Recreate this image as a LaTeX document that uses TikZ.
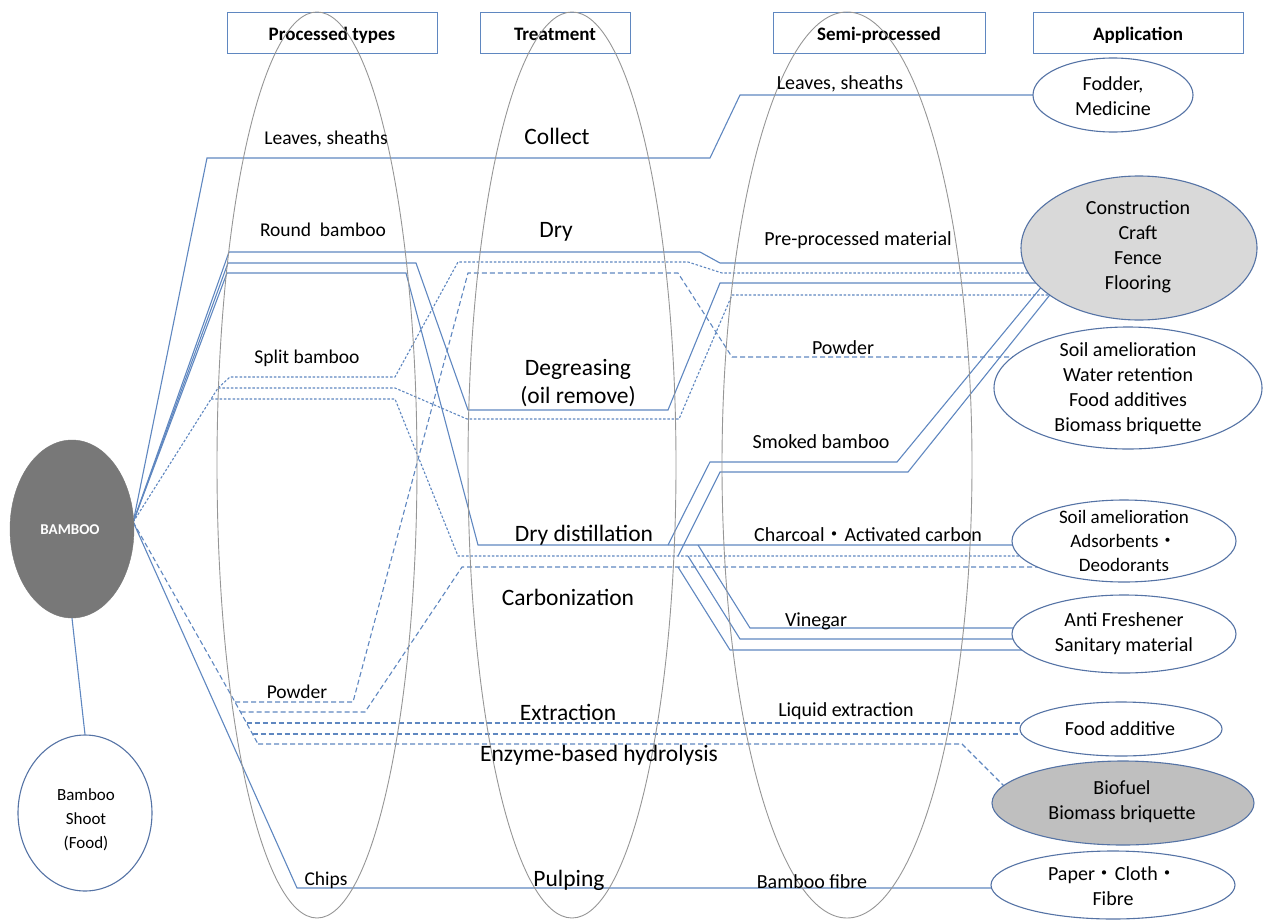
\documentclass[tikz,border=0pt]{standalone}
\usepackage{fontspec}
\setmainfont{Carlito}
\newfontfamily\cjk{Noto Sans CJK JP}
\usetikzlibrary{shapes.geometric,backgrounds,calc}
\definecolor{lb}{RGB}{95,135,192}
\definecolor{eb}{RGB}{85,115,165}
\definecolor{eg}{RGB}{150,150,150}
\newcommand{\kdot}{{\cjk ・}}
\tikzset{
  conn/.style={draw=lb, line width=1.1pt},
  dsh/.style={conn, dash pattern=on 5pt off 3pt},
  dotl/.style={conn, dash pattern=on 2.5pt off 1.8pt},
  colell/.style={ellipse, draw=eg, line width=0.9pt, inner sep=0pt},
  hdr/.style={draw=lb, line width=1pt, minimum height=41pt, inner sep=0pt},
  hdrtxt/.style={inner sep=0pt, anchor=base, font=\fontsize{19}{22}\selectfont\bfseries},
  appell/.style={ellipse, draw=eb, line width=1.1pt, fill=white, inner sep=0pt},
  apptxt/.style={align=center, inner sep=0pt, font=\fontsize{20}{25}\selectfont},
  lp/.style={inner sep=0pt, font=\fontsize{19.5}{23}\selectfont},
  lt/.style={inner sep=0pt, align=center, font=\fontsize{23.5}{28}\selectfont},
  ls/.style={inner sep=0pt, font=\fontsize{20}{23}\selectfont}
}
\begin{document}
\begin{tikzpicture}[x=1pt,y=-1pt]
\useasboundingbox (0,0) rectangle (1264,921);

% headers
\node[hdr, minimum width=210pt] (hpt) at (332,32.5) {};
\node[hdr, minimum width=150pt] (htr) at (555,32.5) {};
\node[hdr, minimum width=212pt] (hsp) at (879,32.5) {};
\node[hdr, minimum width=210pt] (hap) at (1138,32.5) {};
\node[hdrtxt] (hptt) at (332,40) {Processed types};
\node[hdrtxt] (htrt) at (555,40) {Treatment};
\node[hdrtxt] (hspt) at (879,40) {Semi-processed};
\node[hdrtxt] (hapt) at (1138,40) {Application};

% column ellipses
\node[colell, minimum width=200pt, minimum height=906pt] (ce1) at (317,465) {};
\node[colell, minimum width=208pt, minimum height=906pt] (ce2) at (572,465) {};
\node[colell, minimum width=250pt, minimum height=906pt] (ce3) at (847,465) {};

% source nodes
\node[ellipse, fill=black!53, draw=black!53, minimum width=124pt, minimum height=178pt, inner sep=0pt] (bamboo) at (72,529) {};
\node[text=white, inner sep=0pt, font=\fontsize{15}{18}\selectfont\bfseries] (bambootxt) at (70,530) {BAMBOO};
\node[appell, minimum width=134pt, minimum height=156pt] (shoot) at (85,813) {};
\node[apptxt, font=\fontsize{17}{24}\selectfont] (shoottxt) at (86,820) {Bamboo\\Shoot\\(Food)};

% application ellipses
\node[appell, minimum width=160pt, minimum height=74pt] (fod) at (1113,95) {};
\node[appell, fill=black!15, minimum width=236pt, minimum height=144pt] (con) at (1139,248) {};
\node[appell, minimum width=268pt, minimum height=122pt] (soil1) at (1128,388) {};
\node[appell, minimum width=224pt, minimum height=82pt] (soil2) at (1124,541) {};
\node[appell, minimum width=224pt, minimum height=78pt] (anti) at (1124,634) {};
\node[appell, minimum width=202pt, minimum height=54pt] (food) at (1121,729) {};
\node[appell, fill=black!25, minimum width=262pt, minimum height=84pt] (bio) at (1123,803) {};
\node[appell, minimum width=244pt, minimum height=68pt] (paper) at (1113,885) {};

\node[apptxt] (fodt) at (1113,96) {Fodder,\\Medicine};
\node[apptxt] (cont) at (1138,247) {Construction\\Craft\\Fence\\Flooring};
\node[apptxt] (soil1t) at (1128,389) {Soil amelioration\\Water retention\\Food additives\\Biomass briquette};
\node[apptxt, font=\fontsize{19}{24}\selectfont] (soil2t) at (1124,541) {Soil amelioration\\Adsorbents\kdot\\Deodorants};
\node[apptxt] (antit) at (1124,634) {Anti Freshener\\Sanitary material};
\node[apptxt] (foodt) at (1120,729) {Food additive};
\node[apptxt] (biot) at (1122,802) {Biofuel\\Biomass briquette};
\node[apptxt] (papert) at (1113,886) {Paper\kdot Cloth\kdot\\Fibre};

% labels: processed types
\node[lp] (lp1) at (326,139) {Leaves, sheaths};
\node[lp] (lp2) at (323,230) {Round\ \ bamboo};
\node[lp] (lp3) at (307,358) {Split bamboo};
\node[lp] (lp4) at (297,692) {Powder};
\node[lp] (lp5) at (326,880) {Chips};
% labels: treatment
\node[lt] (lt1) at (557,136) {Collect};
\node[lt] (lt2) at (556,232) {Dry};
\node[lt] (lt3) at (578,383) {Degreasing\\(oil remove)};
\node[lt] (lt4) at (584,535) {Dry distillation};
\node[lt] (lt5) at (568,597) {Carbonization};
\node[lt] (lt6) at (568,712) {Extraction};
\node[lt] (lt7) at (599,755) {Enzyme-based hydrolysis};
\node[lt] (lt8) at (569,880) {Pulping};
% labels: semi-processed
\node[ls] (ls1) at (840,84) {Leaves, sheaths};
\node[ls] (ls2) at (858,240) {Pre-processed material};
\node[ls] (ls3) at (843,348) {Powder};
\node[ls] (ls4) at (821,442) {Smoked bamboo};
\node[ls] (ls5) at (868,535) {Charcoal\kdot Activated carbon};
\node[ls] (ls6) at (816,621) {Vinegar};
\node[ls] (ls7) at (846,711) {Liquid extraction};
\node[ls] (ls8) at (812,882) {Bamboo fibre};

\begin{scope}[on background layer]
\coordinate (b0) at ($(bamboo.east)+(-1,-7)$);
% bamboo shoot
\draw[conn] (bamboo.south) -- (shoot.north);
% leaves
\draw[conn] (b0) -- (207,158) -- (710,158) -- (740,95) -- (fod.center);
% round bamboo
\coordinate (r1) at (229,252);
\coordinate (r2) at (228,263);
\coordinate (r3) at (227,273);
\draw[conn] (b0) -- (r1) -- (700,252) -- (720,263) -- ($(con.center)+(0,15)$);
\draw[conn] (b0) -- (r2) -- (416,263) -- (468,410) -- (668,410) -- (720,283) -- ($(con.center)+(0,35)$);
\draw[conn] (b0) -- (r3) -- (406,273) -- (478,545) -- ($(soil2.center)+(0,4)$);
% split bamboo
\coordinate (s0) at (218,388);
\coordinate (s3) at (211,399);
\draw[dotl] (b0) -- (s0);
\draw[dotl] (s0) -- (230,377) -- (395,377) -- (458,262) -- (688,262) -- (722,273) -- ($(con.center)+(0,25)$);
\draw[dotl] (s0) -- (395,388) -- (467,419) -- (679,419) -- (732,295) -- ($(con.center)+(0,47)$);
\draw[dotl] (s3) -- (395,399) -- (458,556) -- ($(soil2.center)+(0,15)$);
% powder
\coordinate (p0) at (235,702);
\coordinate (p2) at (240.5,712);
\coordinate (p3) at (246.5,723);
\coordinate (p4) at (252.5,734);
\coordinate (p5) at (258,744);
\draw[dsh] (b0) -- (p0) -- (p5);
\draw[dsh] (p0) -- (353,702) -- (468,273) -- (678,273) -- (732,357) -- ($(soil1.center)+(0,-31)$);
\draw[dsh] (p2) -- (365,712) -- (462,567) -- ($(soil2.center)+(0,26)$);
\draw[dsh] (p3) -- ($(food.center)+(0,-6)$);
\draw[dsh] (p4) -- ($(food.center)+(0,5)$);
\draw[dsh] (p5) -- (962,744) -- ($(bio.center)+(-113,-11)$);
% chips
\draw[conn] (b0) -- (297,888) -- ($(paper.center)+(0,3)$);
% dry distillation branches
\coordinate (d1) at (668,545);
\coordinate (d2) at (678,556);
\coordinate (d4) at (698,545);
\coordinate (d5) at (688,556);
\coordinate (d6) at (678,567);
\draw[conn] (d1) -- (710,462) -- (897,462) -- ($(con.center)+(-89,28.5)$);
\draw[conn] (d2) -- (720,472) -- (908,472) -- ($(con.center)+(-82,38)$);
\draw[conn] (d4) -- (750,628) -- ($(anti.center)+(0,-6)$);
\draw[conn] (d5) -- (740,639) -- ($(anti.center)+(0,5)$);
\draw[conn] (d6) -- (730,650) -- ($(anti.center)+(0,16)$);
\end{scope}
\end{tikzpicture}
\end{document}
